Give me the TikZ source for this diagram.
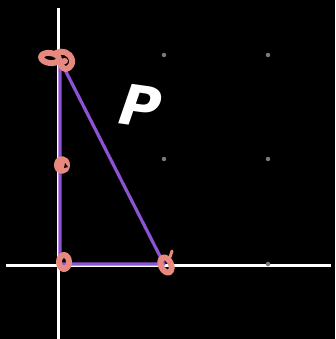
\documentclass[tikz,border=0pt]{standalone}
\usepackage{fontspec}
\setmainfont{DejaVu Sans}
\definecolor{tricol}{HTML}{8E52D6}
\definecolor{pinkcol}{HTML}{E8897F}
\definecolor{dotcol}{HTML}{7A7A7A}
\tikzset{
  axis/.style={white, line width=3pt},
  side/.style={draw=tricol, line width=3.2pt, line join=round},
  squiggle/.style={draw=pinkcol, line width=6pt, line cap=round, line join=round},
  griddot/.style={circle, fill=dotcol, inner sep=0pt, minimum size=4.5pt},
}
\begin{document}
\begin{tikzpicture}[x=1pt,y=-1pt]
\fill[black] (0,0) rectangle (335,339);
\useasboundingbox (0,0) rectangle (335,339);
% axes
\coordinate (yt) at (58,8); \coordinate (yb) at (58,339);
\coordinate (xl) at (6,265); \coordinate (xr) at (331,265);
\draw[axis] (yt) -- (yb);
\draw[axis] (xl) -- (xr);
% grid dots
\node[griddot] (d1) at (164,55) {};
\node[griddot] (d2) at (268,55) {};
\node[griddot] (d3) at (164,159) {};
\node[griddot] (d4) at (268,159) {};
\node[griddot] (d5) at (268,264) {};
% triangle
\coordinate (A) at (60,60);
\coordinate (B) at (60,264);
\coordinate (C) at (164,264);
\draw[side] (A) -- (B) -- (C) -- cycle;
% pink marks
\draw[squiggle, rotate around={-8:(50,58)}] (50,58) ellipse (9pt and 5pt);
\draw[squiggle] (56,53) .. controls (62,50) and (70,52) .. (72,60)
  .. controls (73,67) and (66,71) .. (63,68)
  .. controls (60,65) and (60,61) .. (65,61);
\draw[squiggle] (62,165) ellipse (5pt and 6pt);
\fill[pinkcol] (62,165) circle (4pt);
\fill[black] (65,163) -- (68,167) -- (64,168) -- cycle;
\draw[squiggle] (64,262) ellipse (5pt and 7pt);
\draw[squiggle, rotate around={25:(166,265)}] (166,265) ellipse (5pt and 8pt);
\draw[squiggle, line width=3pt] (170,257) -- (172,251);
% label
\node[white, font=\bfseries\itshape\fontsize{56}{56}\selectfont, rotate=-8] (P) at (141,106) {P};
\end{tikzpicture}
\end{document}
